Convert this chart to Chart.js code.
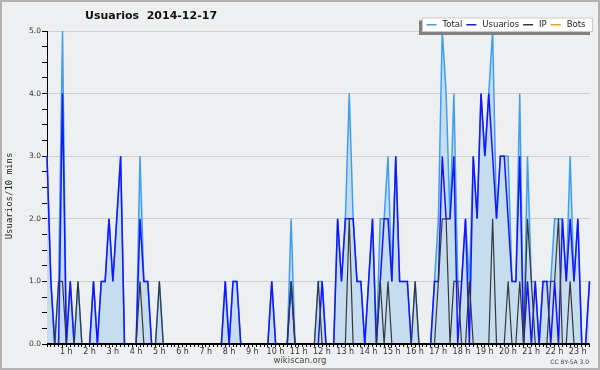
<!DOCTYPE html>
<html>
<head>
<meta charset="utf-8">
<title>Usuarios 2014-12-17</title>
<script src="https://cdn.jsdelivr.net/npm/chart.js@4.4.0/dist/chart.umd.min.js"></script>
<style>
    html, body { margin: 0; padding: 0; background: #ffffff; }
    #chart { display: block; }
</style>
</head>
<body>
<canvas id="chart" width="600" height="370"></canvas>
<script>
// ================================================
// DATA - one value every 10 minutes, 00:00 -> 23:20
// ================================================

const chartTitle = 'Usuarios  2014-12-17';
const yAxisTitle = 'Usuarios/10 mins';

const hourLabels = ['1 h', '2 h', '3 h', '4 h', '5 h', '6 h', '7 h', '8 h', '9 h', '10 h', '11 h', '12 h',
                    '13 h', '14 h', '15 h', '16 h', '17 h', '18 h', '19 h', '20 h', '21 h', '22 h', '23 h'];
const yTickLabels = ['0.0', '1.0', '2.0', '3.0', '4.0', '5.0'];

const totalData = [
    3, 1, 0, 1, 5, 0, 1, 0, 1, 0, 0, 0,
    1, 0, 1, 1, 2, 1, 2, 3, 0, 0, 0, 0,
    3, 1, 1, 0, 0, 1, 0, 0, 0, 0, 0, 0,
    0, 0, 0, 0, 0, 0, 0, 0, 0, 0, 1, 0,
    1, 1, 0, 0, 0, 0, 0, 0, 0, 0, 1, 0,
    0, 0, 0, 2, 0, 0, 0, 0, 0, 0, 1, 1,
    0, 0, 0, 2, 1, 2, 4, 2, 1, 1, 0, 1,
    2, 0, 2, 2, 3, 1, 3, 1, 1, 1, 0, 1,
    0, 0, 0, 0, 1, 2, 5, 4, 2, 4, 1, 1,
    2, 1, 3, 2, 4, 3, 4, 5, 2, 3, 3, 3,
    1, 1, 4, 0, 3, 1, 1, 0, 1, 1, 1, 2,
    2, 2, 1, 3, 1, 2, 0, 0, 1
];

const usuariosData = [
    3, 1, 0, 0, 4, 0, 1, 0, 0, 0, 0, 0,
    1, 0, 1, 1, 2, 1, 2, 3, 0, 0, 0, 0,
    2, 1, 1, 0, 0, 0, 0, 0, 0, 0, 0, 0,
    0, 0, 0, 0, 0, 0, 0, 0, 0, 0, 1, 0,
    1, 1, 0, 0, 0, 0, 0, 0, 0, 0, 1, 0,
    0, 0, 0, 1, 0, 0, 0, 0, 0, 0, 0, 1,
    0, 0, 0, 2, 1, 2, 2, 2, 1, 1, 0, 1,
    2, 0, 1, 2, 2, 1, 3, 1, 1, 1, 0, 0,
    0, 0, 0, 0, 1, 1, 3, 2, 2, 3, 0, 1,
    2, 0, 3, 2, 4, 3, 4, 3, 2, 3, 3, 2,
    1, 1, 3, 0, 1, 0, 1, 0, 1, 1, 0, 1,
    0, 2, 1, 2, 1, 2, 0, 0, 1
];

const ipData = [
    0, 0, 0, 1, 1, 0, 0, 0, 1, 0, 0, 0,
    0, 0, 0, 0, 0, 0, 0, 0, 0, 0, 0, 0,
    1, 0, 0, 0, 0, 1, 0, 0, 0, 0, 0, 0,
    0, 0, 0, 0, 0, 0, 0, 0, 0, 0, 0, 0,
    0, 0, 0, 0, 0, 0, 0, 0, 0, 0, 0, 0,
    0, 0, 0, 1, 0, 0, 0, 0, 0, 0, 1, 0,
    0, 0, 0, 0, 0, 0, 2, 0, 0, 0, 0, 0,
    0, 0, 1, 0, 1, 0, 0, 0, 0, 0, 0, 1,
    0, 0, 0, 0, 0, 1, 2, 2, 0, 1, 1, 0,
    0, 1, 0, 0, 0, 0, 0, 2, 0, 0, 0, 1,
    0, 0, 1, 0, 2, 1, 0, 0, 0, 0, 1, 1,
    2, 0, 0, 1, 0, 0, 0, 0, 0
];

const botsData = [
    0, 0, 0, 0, 0, 0, 0, 0, 0, 0, 0, 0,
    0, 0, 0, 0, 0, 0, 0, 0, 0, 0, 0, 0,
    0, 0, 0, 0, 0, 0, 0, 0, 0, 0, 0, 0,
    0, 0, 0, 0, 0, 0, 0, 0, 0, 0, 0, 0,
    0, 0, 0, 0, 0, 0, 0, 0, 0, 0, 0, 0,
    0, 0, 0, 0, 0, 0, 0, 0, 0, 0, 0, 0,
    0, 0, 0, 0, 0, 0, 0, 0, 0, 0, 0, 0,
    0, 0, 0, 0, 0, 0, 0, 0, 0, 0, 0, 0,
    0, 0, 0, 0, 0, 0, 0, 0, 0, 0, 0, 0,
    0, 0, 0, 0, 0, 0, 0, 0, 0, 0, 0, 0,
    0, 0, 0, 0, 0, 0, 0, 0, 0, 0, 0, 0,
    0, 0, 0, 0, 0, 0, 0, 0, 0
];

// ================================================
// COULEURS
// ================================================

const COLORS = {
    background: '#eeeff0',
    frame: '#b2b2b2',
    fill: '#c6dcef',
    total: '#3d9ff2',
    usuarios: '#1515ff',
    ip: '#383838',
    bots: '#ff9a00',
    grid: '#cfcfcf',
    text: '#222222'
};

// one point every 10 minutes -> 6 per hour
const POINTS_PER_HOUR = 6;

function toXY(values) {
    return values.map((v, i) => ({ x: i, y: v }));
}

// ================================================
// PLUGIN: fond, titre, legende, pied de page
// ================================================

const chromePlugin = {
    id: 'chrome',
    beforeDraw(chart) {
        const ctx = chart.ctx;
        ctx.save();
        ctx.fillStyle = COLORS.background;
        ctx.fillRect(0, 0, chart.width, chart.height);
        ctx.strokeStyle = COLORS.frame;
        ctx.lineWidth = 2;
        ctx.strokeRect(1, 1, chart.width - 2, chart.height - 2);
        ctx.restore();
    },
    afterDatasetsDraw(chart) {
        // the zero axis sits over the series (hides the flat Bots line like the original)
        const { ctx, chartArea } = chart;
        ctx.save();
        ctx.fillStyle = '#000000';
        ctx.fillRect(chartArea.left, chartArea.bottom - 1, chartArea.right - chartArea.left, 2);
        ctx.restore();
    },
    afterDraw(chart) {
        const ctx = chart.ctx;
        ctx.save();

        // title
        ctx.fillStyle = '#111111';
        ctx.font = 'bold 11px "DejaVu Sans"';
        ctx.textAlign = 'left';
        ctx.textBaseline = 'middle';
        ctx.fillText(chartTitle, 85, 16);

        // y axis title
        ctx.save();
        ctx.translate(10, 196);
        ctx.rotate(-Math.PI / 2);
        ctx.textAlign = 'center';
        ctx.font = '9px "DejaVu Sans Mono"';
        ctx.fillStyle = COLORS.text;
        ctx.fillText(yAxisTitle, 0, 0);
        ctx.restore();

        // legend box with shadow
        const box = { x: 422, y: 17.5, w: 171, h: 14.5 };
        ctx.fillStyle = '#808080';
        ctx.fillRect(box.x - 3, box.y + 3, box.w, box.h);
        ctx.fillStyle = '#ffffff';
        ctx.fillRect(box.x, box.y, box.w, box.h);
        ctx.strokeStyle = '#c8c8c8';
        ctx.lineWidth = 1;
        ctx.strokeRect(box.x + 0.5, box.y + 0.5, box.w - 1, box.h - 1);

        ctx.font = '8.5px "DejaVu Sans"';
        ctx.textAlign = 'left';
        let x = 426.5;
        const ly = box.y + box.h / 2;
        chart.data.datasets.forEach(ds => {
            ctx.strokeStyle = ds.borderColor;
            ctx.lineWidth = 1.5;
            ctx.beginPath();
            ctx.moveTo(x, ly);
            ctx.lineTo(x + 10, ly);
            ctx.stroke();
            ctx.fillStyle = COLORS.text;
            ctx.fillText(ds.label, x + 16, ly + 0.5);
            x += 16 + ctx.measureText(ds.label).width + 4;
        });

        // footer
        ctx.fillStyle = '#444444';
        ctx.font = '8.5px "DejaVu Sans"';
        ctx.textAlign = 'center';
        ctx.fillText('wikiscan.org', 300, 361);
        ctx.font = '6px "DejaVu Sans"';
        ctx.textAlign = 'right';
        ctx.fillText('CC BY-SA 3.0', 589, 362);

        ctx.restore();
    }
};

// ================================================
// GRAPHIQUE
// ================================================

function initUsersChart() {
    const canvas = document.getElementById('chart');
    const lastIndex = totalData.length - 1;

    new Chart(canvas, {
        type: 'line',
        data: {
            datasets: [
                {
                    label: 'Total',
                    data: toXY(totalData),
                    borderColor: COLORS.total,
                    backgroundColor: COLORS.fill,
                    fill: 'origin',
                    borderWidth: 1.5,
                    order: 3
                },
                {
                    label: 'Usuarios',
                    data: toXY(usuariosData),
                    borderColor: COLORS.usuarios,
                    backgroundColor: COLORS.usuarios,
                    fill: false,
                    borderWidth: 1.5,
                    order: 2
                },
                {
                    label: 'IP',
                    data: toXY(ipData),
                    borderColor: COLORS.ip,
                    backgroundColor: COLORS.ip,
                    fill: false,
                    borderWidth: 1.2,
                    order: 1
                },
                {
                    label: 'Bots',
                    data: toXY(botsData),
                    borderColor: COLORS.bots,
                    backgroundColor: COLORS.bots,
                    fill: false,
                    borderWidth: 1,
                    order: 0
                }
            ]
        },
        options: {
            responsive: false,
            animation: false,
            devicePixelRatio: 1,
            layout: {
                padding: { top: 31, right: 10.5, bottom: 0, left: 0 }
            },
            elements: {
                point: { radius: 0 },
                line: { tension: 0 }
            },
            datasets: {
                line: { clip: false }
            },
            plugins: {
                legend: { display: false },
                title: { display: false },
                tooltip: { enabled: false }
            },
            scales: {
                x: {
                    type: 'linear',
                    min: 0,
                    max: lastIndex,
                    afterFit: scale => { scale.height = 26; },
                    afterBuildTicks: scale => {
                        scale.ticks = totalData.map((v, i) => ({ value: i }));
                    },
                    border: { color: '#000000', width: 1 },
                    grid: {
                        drawOnChartArea: false,
                        color: '#000000',
                        tickLength: 3
                    },
                    ticks: {
                        autoSkip: false,
                        maxRotation: 0,
                        minRotation: 0,
                        padding: 0,
                        labelOffset: -4,
                        color: '#333333',
                        font: { family: 'DejaVu Sans', size: 8 },
                        callback: function(value) {
                            const k = value / POINTS_PER_HOUR;
                            if (value > 0 && Number.isInteger(k) && k <= hourLabels.length) {
                                return hourLabels[k - 1];
                            }
                            return '';
                        }
                    }
                },
                y: {
                    min: 0,
                    max: 5,
                    afterFit: scale => { scale.width = 47; },
                    border: { color: '#000000', width: 1 },
                    grid: {
                        color: ctx => (Number.isInteger(ctx.tick.value) && ctx.tick.value > 0) ? COLORS.grid : 'rgba(0,0,0,0)',
                        tickColor: '#000000',
                        tickLength: 5
                    },
                    ticks: {
                        stepSize: 0.25,
                        padding: 1,
                        color: '#333333',
                        font: { family: 'DejaVu Sans', size: 7.5 },
                        callback: function(value) {
                            return Number.isInteger(value) ? yTickLabels[value] : '';
                        }
                    }
                }
            }
        },
        plugins: [chromePlugin]
    });
}

document.addEventListener('DOMContentLoaded', initUsersChart);
</script>
</body>
</html>
